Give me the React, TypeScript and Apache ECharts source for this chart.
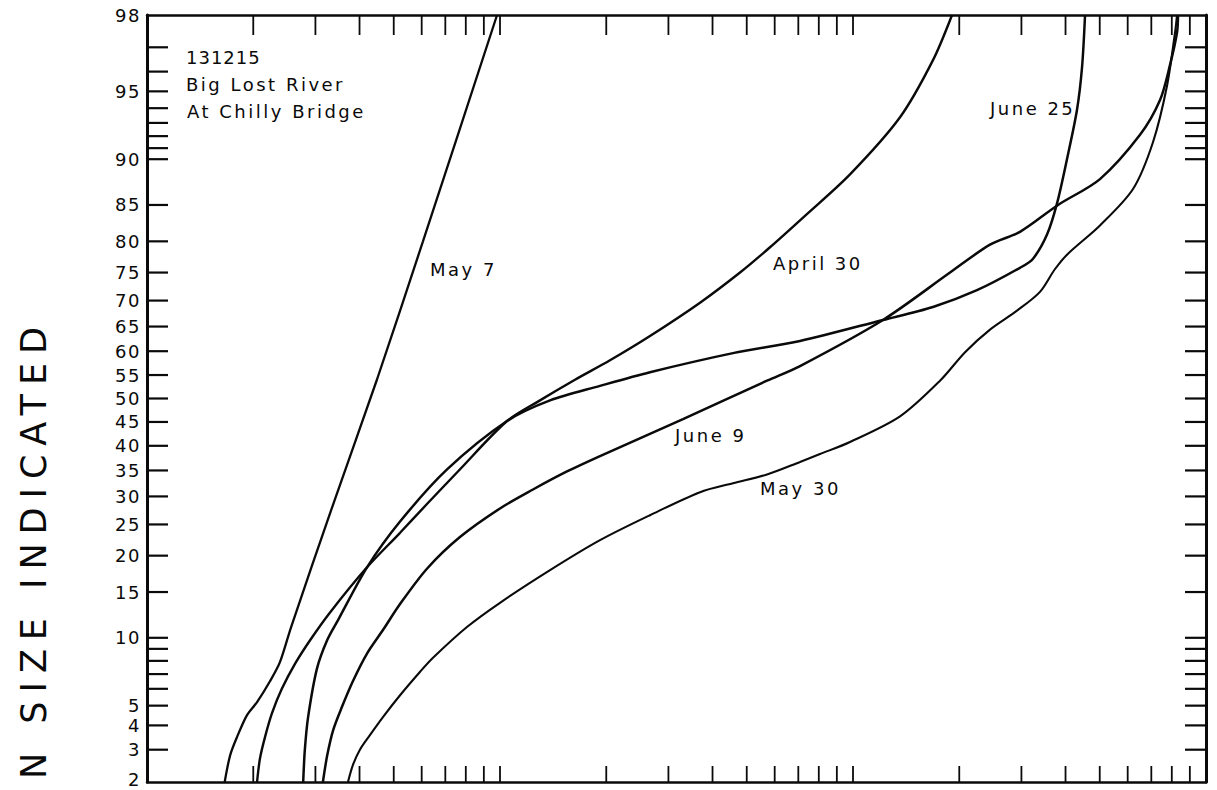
import React, { useEffect, useRef } from "react";
import * as echarts from "echarts";

// Grain size axis (mm, log scale) and percent-finer axis (normal probability scale)
const X_MIN = 0.1;
const X_MAX = 100;
const P_MIN = 2;
const P_MAX = 98;

const Y_LABELS = [98, 95, 90, 85, 80, 75, 70, 65, 60, 55, 50, 45, 40, 35, 30, 25, 20, 15, 10, 5, 4, 3, 2];
const Y_TICKS = [97, 96, 95, 94, 93, 92, 91, 90, 85, 80, 75, 70, 65, 60, 55, 50, 45, 40, 35, 30, 25, 20, 15, 10, 9, 8, 7, 6, 5, 4, 3];
const X_TICKS = [0.2, 0.3, 0.4, 0.5, 0.6, 0.7, 0.8, 0.9, 1, 2, 3, 4, 5, 6, 7, 8, 9, 10, 20, 30, 40, 50, 60, 70, 80, 90];

// Curves: grain size (mm) and percent finer
const may7Size = [0.166, 0.172, 0.18, 0.192, 0.205, 0.223, 0.238, 0.256, 0.337, 0.448, 0.605, 0.981];
const may7Pct = [2.0, 2.8, 3.5, 4.5, 5.2, 6.5, 7.9, 11.05, 28.6, 54.0, 80.0, 98.0];

const apr30Size = [0.205, 0.209, 0.216, 0.226, 0.241, 0.263, 0.29, 0.33, 0.42, 0.521, 0.621, 0.76, 1.047, 1.298, 1.631, 2.049, 2.66, 3.687, 4.786, 5.82, 7.31, 9.806, 13.59, 16.85, 19.08];
const apr30Pct = [2.0, 2.7, 3.5, 4.6, 6.0, 7.8, 9.8, 12.6, 18.3, 23.6, 28.6, 34.8, 45.2, 49.6, 54.0, 58.1, 63.1, 69.6, 75.0, 79.1, 83.6, 88.5, 93.4, 96.5, 98.0];

const jun25Size = [0.277, 0.28, 0.286, 0.303, 0.324, 0.348, 0.42, 0.521, 0.708, 1.047, 1.386, 1.92, 2.66, 4.572, 7.078, 12.16, 16.85, 22.45, 29.72, 32.36, 35.45, 37.84, 40.38, 43.11, 44.55, 45.43];
const jun25Pct = [2.0, 3.0, 4.4, 7.4, 9.8, 11.8, 18.3, 25.5, 35.2, 45.2, 49.6, 52.7, 55.6, 59.6, 62.1, 66.3, 68.8, 71.9, 75.8, 77.3, 81.0, 85.2, 90.0, 93.9, 96.2, 98.0];

const jun9Size = [0.315, 0.324, 0.337, 0.357, 0.383, 0.42, 0.466, 0.521, 0.621, 0.77, 1.0, 1.24, 1.548, 1.92, 3.299, 5.706, 7.078, 12.16, 18.83, 24.44, 29.72, 38.08, 50.08, 65.02, 74.09, 79.08, 82.78, 83.32];
const jun9Pct = [2.0, 2.8, 3.8, 4.95, 6.5, 8.6, 10.75, 13.55, 18.1, 22.9, 27.8, 31.3, 34.8, 37.9, 45.6, 53.8, 56.9, 66.3, 75.0, 79.5, 81.4, 85.0, 88.0, 92.1, 94.5, 96.3, 97.5, 98.0];

const may30Size = [0.371, 0.383, 0.401, 0.428, 0.466, 0.521, 0.593, 0.646, 0.806, 1.0, 1.386, 1.92, 2.66, 3.687, 4.572, 5.706, 7.078, 8.062, 9.806, 13.59, 17.64, 20.77, 24.44, 29.15, 33.86, 37.35, 40.65, 50.08, 62.12, 70.76, 77.55, 81.71, 82.78];
const may30Pct = [2.0, 2.48, 3.0, 3.57, 4.4, 5.6, 7.15, 8.25, 11.05, 13.7, 17.9, 22.4, 26.6, 30.8, 32.5, 34.2, 36.7, 38.3, 40.8, 46.2, 53.8, 59.8, 64.4, 68.1, 71.6, 75.6, 78.1, 82.3, 86.9, 91.5, 95.3, 97.5, 98.0];

const CURVES = [
  { name: "May 7", size: may7Size, pct: may7Pct, width: 2.3 },
  { name: "April 30", size: apr30Size, pct: apr30Pct, width: 2.4 },
  { name: "June 25", size: jun25Size, pct: jun25Pct, width: 2.5 },
  { name: "June 9", size: jun9Size, pct: jun9Pct, width: 2.5 },
  { name: "May 30", size: may30Size, pct: may30Pct, width: 2.1 },
];

// inverse standard normal CDF (probability-paper scale transform)
function probit(p: number): number {
  const a = [-3.969683028665376e1, 2.209460984245205e2, -2.759285104469687e2, 1.38357751867269e2, -3.066479806614716e1, 2.506628277459239];
  const b = [-5.447609879822406e1, 1.615858368580409e2, -1.556989798598866e2, 6.680131188771972e1, -1.328068155288572e1];
  const c = [-7.784894002430293e-3, -3.223964580411365e-1, -2.400758277161838, -2.549732539343734, 4.374664141464968, 2.938163982698783];
  const d = [7.784695709041462e-3, 3.224671290700398e-1, 2.445134137142996, 3.754408661907416];
  const pl = 0.02425;
  if (p < pl) {
    const q = Math.sqrt(-2 * Math.log(p));
    return (((((c[0] * q + c[1]) * q + c[2]) * q + c[3]) * q + c[4]) * q + c[5]) / ((((d[0] * q + d[1]) * q + d[2]) * q + d[3]) * q + 1);
  }
  if (p <= 1 - pl) {
    const q = p - 0.5;
    const r = q * q;
    return ((((((a[0] * r + a[1]) * r + a[2]) * r + a[3]) * r + a[4]) * r + a[5]) * q) / (((((b[0] * r + b[1]) * r + b[2]) * r + b[3]) * r + b[4]) * r + 1);
  }
  const q = Math.sqrt(-2 * Math.log(1 - p));
  return -(((((c[0] * q + c[1]) * q + c[2]) * q + c[3]) * q + c[4]) * q + c[5]) / ((((d[0] * q + d[1]) * q + d[2]) * q + d[3]) * q + 1);
}

const Z_MIN = probit(P_MIN / 100);
const Z_MAX = probit(P_MAX / 100);

const FONT = "DejaVu Sans";
const INK = "#0a0a0a";

const SPACING: Record<string, number> = {
  "N SIZE INDICATED": 9,
  "131215": 1,
};

export default function App() {
  const ref = useRef<HTMLDivElement>(null);

  useEffect(() => {
    const el = ref.current;
    if (!el) return;
    const chart = echarts.init(el, undefined, { renderer: "svg" });

    const hideAxis = (position: string, width: number) => ({
      position,
      axisLine: { show: true, onZero: false, lineStyle: { color: INK, width } },
      axisTick: { show: false },
      axisLabel: { show: false },
      splitLine: { show: false },
    });

    const lineSeries = CURVES.map((c) => ({
      type: "line",
      name: c.name,
      silent: true,
      smooth: 0.3,
      showSymbol: false,
      symbol: "none",
      lineStyle: { color: INK, width: c.width },
      data: c.size.map((s, i) => [s, probit(c.pct[i] / 100)]),
      z: 3,
    }));

    const annotation = (text: string, x: number, y: number) => ({
      type: "text",
      x,
      y,
      silent: true,
      style: {
        text,
        fill: INK,
        font: `18px "${FONT}"`,
        align: "left",
        textAlign: "left",
        verticalAlign: "middle",
        textVerticalAlign: "middle",
      },
    });

    chart.setOption({
      animation: false,
      backgroundColor: "#ffffff",
      grid: { left: 147, right: 11, top: 15, bottom: 8 },
      xAxis: [
        { type: "log", logBase: 10, min: X_MIN, max: X_MAX, ...hideAxis("bottom", 2.5) },
        { type: "log", logBase: 10, min: X_MIN, max: X_MAX, ...hideAxis("top", 2.5) },
      ],
      yAxis: [
        { type: "value", min: Z_MIN, max: Z_MAX, ...hideAxis("left", 3) },
        { type: "value", min: Z_MIN, max: Z_MAX, ...hideAxis("right", 3) },
      ],
      series: [
        {
          type: "custom",
          name: "yTicks",
          coordinateSystem: "cartesian2d",
          silent: true,
          clip: false,
          data: Y_TICKS.map((p) => [X_MIN, probit(p / 100)]),
          renderItem: (_params: any, api: any) => {
            const y = api.coord([X_MIN, api.value(1)])[1];
            const xl = api.coord([X_MIN, 0])[0];
            const xr = api.coord([X_MAX, 0])[0];
            return {
              type: "group",
              children: [
                { type: "line", shape: { x1: xl, y1: y, x2: xl + 21, y2: y }, style: { stroke: INK, lineWidth: 2.2 } },
                { type: "line", shape: { x1: xr - 21, y1: y, x2: xr, y2: y }, style: { stroke: INK, lineWidth: 2.2 } },
              ],
            };
          },
        },
        {
          type: "custom",
          name: "xTicks",
          coordinateSystem: "cartesian2d",
          silent: true,
          clip: false,
          data: X_TICKS.map((s) => [s, 0]),
          renderItem: (_params: any, api: any) => {
            const x = api.coord([api.value(0), Z_MAX])[0];
            const yt = api.coord([X_MIN, Z_MAX])[1];
            const yb = api.coord([X_MIN, Z_MIN])[1];
            return {
              type: "group",
              children: [
                { type: "line", shape: { x1: x, y1: yt, x2: x, y2: yt + 20 }, style: { stroke: INK, lineWidth: 1.8 } },
                { type: "line", shape: { x1: x, y1: yb - 16, x2: x, y2: yb }, style: { stroke: INK, lineWidth: 1.8 } },
              ],
            };
          },
        },
        {
          type: "custom",
          name: "yLabels",
          coordinateSystem: "cartesian2d",
          silent: true,
          clip: false,
          data: Y_LABELS.map((p) => [X_MIN, probit(p / 100), p]),
          renderItem: (_params: any, api: any) => {
            const pt = api.coord([X_MIN, api.value(1)]);
            const y = Math.min(pt[1], 779);
            return {
              type: "text",
              x: pt[0] - 6,
              y,
              style: {
                text: String(api.value(2)),
                fill: INK,
                font: `18px "${FONT}"`,
                align: "right",
                textAlign: "right",
                verticalAlign: "middle",
                textVerticalAlign: "middle",
              },
            };
          },
        },
        ...lineSeries,
      ],
      graphic: [
        annotation("131215", 186, 57),
        annotation("Big Lost River", 186, 84),
        annotation("At Chilly Bridge", 187, 111),
        annotation("May 7", 430, 269),
        annotation("April 30", 773, 263),
        annotation("June 25", 990, 108),
        annotation("June 9", 675, 435),
        annotation("May 30", 760, 488),
        {
          type: "text",
          x: 34,
          y: 318,
          rotation: Math.PI / 2,
          silent: true,
          style: {
            text: "N SIZE INDICATED",
            fill: INK,
            font: `35px "${FONT}"`,
            align: "right",
            textAlign: "right",
            verticalAlign: "middle",
            textVerticalAlign: "middle",
          },
        },
      ],
    });

    const applySpacing = () => {
      el.querySelectorAll("text").forEach((t) => {
        const s = (t.textContent || "").trim();
        const v = SPACING[s] ?? (/^\d+$/.test(s) ? 1.5 : 2.5);
        t.setAttribute("letter-spacing", String(v));
      });
    };
    chart.on("finished", applySpacing);
    applySpacing();
    const raf = requestAnimationFrame(applySpacing);
    const timer = window.setTimeout(applySpacing, 100);

    return () => {
      cancelAnimationFrame(raf);
      window.clearTimeout(timer);
      chart.dispose();
    };
  }, []);

  return (
    <div
      ref={ref}
      style={{ position: "fixed", left: 0, top: 0, width: 1217, height: 790, background: "#fff" }}
    />
  );
}
